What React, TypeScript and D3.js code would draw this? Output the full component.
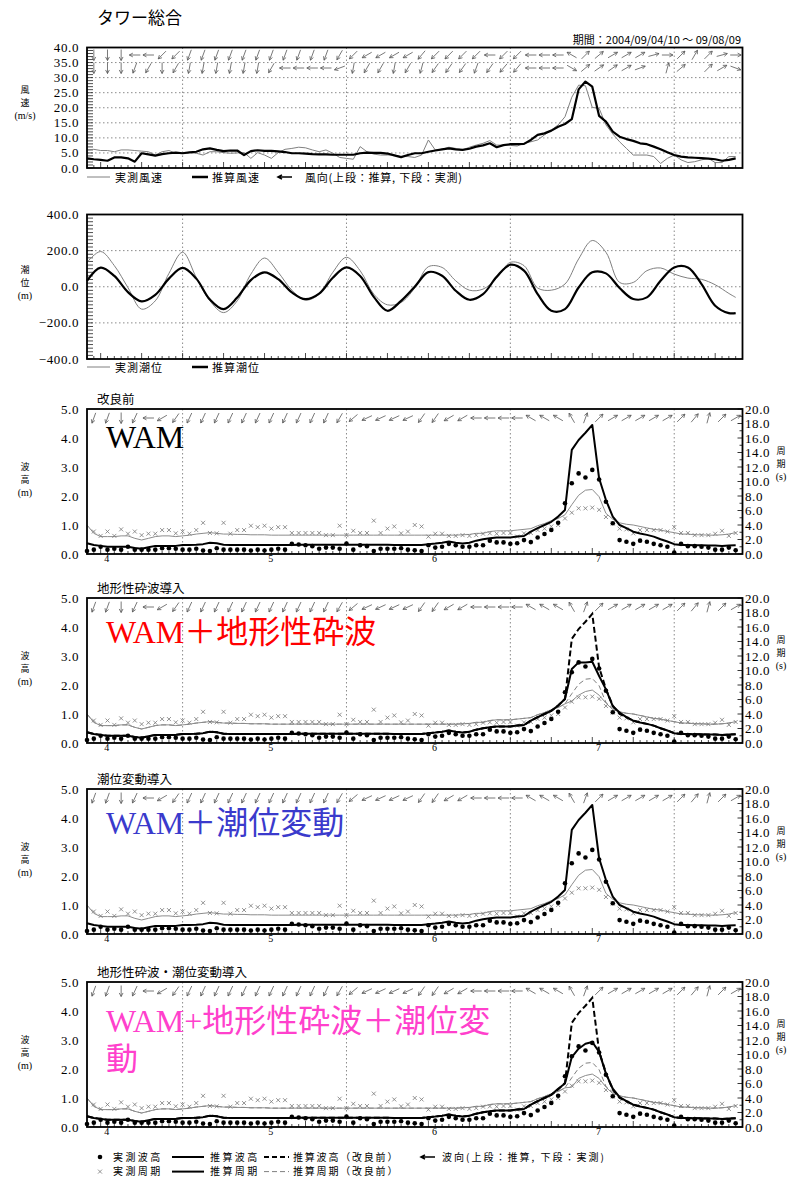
import React from 'react';
import * as d3 from 'd3';

// ---------------- DATA ----------------
// hourly series, hour 0 = 2004/09/04 10:00
const windObs = [
  6.0,6.2,5.8,5.8,5.4,6.0,6.0,5.8,5.6,5.4,
  4.3,5.4,5.8,4.9,4.9,5.1,4.9,4.3,5.4,5.4,
  5.1,4.9,5.0,5.1,3.2,5.1,4.3,3.2,5.1,6.2,
  6.5,6.9,6.7,6.0,5.4,6.0,4.9,3.5,3.2,2.9,
  7.1,5.4,4.6,4.3,4.3,4.3,3.8,3.8,3.5,4.3,
  9.3,6.0,6.2,6.9,6.5,6.0,6.9,7.6,8.2,9.1,
  7.6,7.6,7.5,7.3,8.2,8.7,9.3,11.0,12.6,14.3,
  17.0,23.5,27.5,27.3,20.1,19.8,14.3,11.3,8.7,6.5,
  4.3,4.3,4.3,3.8,1.5,3.2,4.3,2.7,1.8,2.1,
  2.7,3.2,1.8,1.8,3.8,3.8,
];
const windCalc = [
  3.2,2.9,2.7,2.4,3.5,3.5,3.2,2.1,4.9,4.5,
  4.1,4.6,4.9,5.1,4.9,5.2,5.4,6.2,6.5,6.0,
  5.6,5.8,5.8,4.3,5.6,5.9,5.7,5.7,5.5,5.3,
  4.9,4.9,4.8,4.6,4.5,4.5,4.4,4.4,4.4,4.4,
  4.9,5.1,5.0,5.0,4.8,4.2,3.6,4.3,4.9,4.9,
  5.4,5.8,6.2,6.5,6.2,6.0,6.4,7.1,7.5,8.2,
  6.9,7.6,7.9,7.9,8.0,9.3,11.0,11.5,12.4,13.7,
  14.6,16.2,26.1,28.7,27.0,17.3,15.4,12.1,10.4,9.6,
  9.0,8.2,7.9,7.1,6.2,5.2,4.3,3.8,3.5,3.4,
  3.3,3.1,2.9,2.4,2.7,3.2,
];

// tide, every 2 hours (+ last hour)
const tideHours = [0,2,4,6,8,10,12,14,16,18,20,22,24,26,28,30,32,34,36,38,40,42,44,46,48,50,52,54,56,58,60,62,64,66,68,70,72,74,76,78,80,82,84,86,88,90,92,94,95];
const tideObs = [135,195,117,-5,-124,-78,74,191,52,-78,-143,-78,70,159,80,-19,-74,-41,80,163,89,-41,-100,-87,-7,111,107,33,-19,-13,48,135,117,-7,-19,15,154,256,191,24,24,89,104,70,48,41,11,-37,-59];
const tideCalc = [33,106,60,-30,-81,-45,45,104,45,-71,-124,-60,37,80,42,-31,-69,-38,50,107,60,-56,-133,-78,0,81,61,-22,-72,-41,55,122,89,-41,-133,-124,-4,80,74,-7,-68,-59,33,107,107,15,-105,-146,-146];

// wave: observed height (dots) and period (crosses)
const obsH = [
  0.10,0.15,0.25,0.15,0.18,0.15,0.25,0.15,0.15,0.15,
  0.15,0.20,0.20,0.18,0.15,0.15,0.18,0.12,0.10,0.20,
  0.15,0.15,0.15,0.15,0.12,0.15,0.12,0.15,0.18,0.15,
  0.35,0.33,0.30,0.27,0.18,0.22,0.22,0.18,0.36,0.15,
  0.30,0.27,0.10,0.18,0.18,0.18,0.20,0.15,0.13,0.10,
  0.30,0.22,0.25,0.35,0.30,0.25,0.25,0.30,0.30,0.46,
  0.40,0.40,0.35,0.37,0.48,0.41,0.57,0.69,0.83,1.08,
  1.75,2.44,2.78,2.64,2.90,2.57,1.80,1.06,0.48,0.42,
  0.35,0.46,0.42,0.35,0.30,0.25,0.05,0.35,0.27,0.27,
  0.25,0.22,0.15,0.15,0.22,0.13,
];
const obsT = [
  null,3.1,2.5,3.1,2.5,3.4,2.8,3.1,2.6,2.8,
  2.8,3.3,3.3,2.85,3.1,2.8,3.3,4.3,2.9,2.85,
  4.3,2.8,3.3,3.3,3.9,3.7,3.9,3.5,3.7,3.7,
  2.9,2.9,2.9,2.9,2.9,2.6,2.6,3.9,2.6,3.2,
  2.9,2.9,4.6,2.9,3.5,3.8,2.85,3.1,4.0,3.8,
  2.4,2.8,2.8,2.5,2.5,2.6,2.5,2.6,2.8,2.85,
  2.8,2.9,2.9,2.4,2.85,2.9,3.3,3.5,3.8,4.0,
  4.9,5.7,6.3,6.3,6.4,6.1,5.1,4.2,3.5,3.4,
  2.85,3.3,3.3,3.3,3.3,3.1,3.7,2.9,2.9,2.6,
  2.6,2.6,2.8,3.2,2.5,2.9,
];
// WAM (before improvement)
const hsBase = [
  0.37,0.31,0.28,0.25,0.25,0.25,0.25,0.21,0.18,0.23,
  0.28,0.28,0.28,0.28,0.31,0.31,0.32,0.34,0.39,0.37,
  0.32,0.31,0.31,0.31,0.31,0.31,0.31,0.31,0.31,0.31,
  0.31,0.32,0.32,0.32,0.32,0.32,0.32,0.32,0.32,0.32,
  0.32,0.32,0.32,0.32,0.32,0.31,0.31,0.31,0.31,0.31,
  0.34,0.36,0.39,0.43,0.39,0.36,0.39,0.46,0.51,0.54,
  0.57,0.57,0.57,0.60,0.62,0.77,0.89,1.00,1.11,1.29,
  1.52,3.59,3.93,4.18,4.45,2.61,1.86,1.29,1.00,0.89,
  0.77,0.71,0.66,0.60,0.51,0.43,0.34,0.31,0.31,0.30,
  0.30,0.29,0.29,0.28,0.29,0.30,
];
const tsBase = [
  4.0,2.85,2.4,2.4,2.4,2.5,2.5,2.16,1.93,2.16,
  2.4,2.5,2.5,2.4,2.5,2.6,2.75,2.85,2.95,2.85,
  2.75,2.75,2.7,2.7,2.65,2.65,2.65,2.6,2.6,2.6,
  2.6,2.6,2.6,2.6,2.6,2.6,2.6,2.6,2.6,2.6,
  2.6,2.6,2.6,2.6,2.6,2.6,2.6,2.6,2.6,2.6,
  2.6,2.6,2.6,2.6,2.6,2.65,2.7,2.85,2.85,3.1,
  3.2,3.2,3.2,3.3,3.4,3.5,3.9,4.2,4.6,4.9,
  5.4,6.8,8.1,8.8,8.9,7.9,5.6,4.8,4.3,4.1,
  4.0,3.8,3.6,3.4,3.3,3.1,2.95,2.75,2.75,2.65,
  2.65,2.6,2.6,2.65,2.75,2.95,
];
// WAM + topographic breaking
const hsBreak = [
  0.37,0.31,0.28,0.25,0.25,0.25,0.25,0.21,0.18,0.23,
  0.28,0.28,0.28,0.28,0.31,0.31,0.32,0.34,0.39,0.37,
  0.32,0.31,0.31,0.31,0.31,0.31,0.31,0.31,0.31,0.31,
  0.31,0.32,0.32,0.32,0.32,0.32,0.32,0.32,0.32,0.32,
  0.32,0.32,0.32,0.32,0.32,0.31,0.31,0.31,0.31,0.31,
  0.34,0.36,0.39,0.43,0.39,0.36,0.39,0.46,0.51,0.54,
  0.57,0.57,0.57,0.60,0.62,0.77,0.89,1.00,1.11,1.29,
  1.52,2.55,2.78,2.78,2.80,2.31,1.85,1.27,1.05,0.89,
  0.77,0.71,0.66,0.60,0.51,0.43,0.34,0.31,0.31,0.30,
  0.30,0.29,0.29,0.28,0.29,0.30,
];
const tsBreak = [
  4.0,2.85,2.4,2.4,2.4,2.5,2.5,2.16,1.93,2.16,
  2.4,2.5,2.5,2.4,2.5,2.6,2.75,2.85,2.95,2.85,
  2.75,2.75,2.7,2.7,2.65,2.65,2.65,2.6,2.6,2.6,
  2.6,2.6,2.6,2.6,2.6,2.6,2.6,2.6,2.6,2.6,
  2.6,2.6,2.6,2.6,2.6,2.6,2.6,2.6,2.6,2.6,
  2.6,2.6,2.6,2.6,2.6,2.65,2.7,2.85,2.85,3.1,
  3.2,3.2,3.2,3.3,3.4,3.5,3.9,4.2,4.6,4.9,
  5.4,5.8,6.6,7.1,7.3,6.6,5.5,4.6,4.3,4.1,
  4.0,3.8,3.6,3.4,3.3,3.1,2.95,2.75,2.75,2.65,
  2.65,2.6,2.6,2.65,2.75,2.95,
];
// WAM + tide variation
const hsTide = [
  0.37,0.31,0.28,0.25,0.25,0.25,0.25,0.21,0.18,0.23,
  0.28,0.28,0.28,0.28,0.31,0.31,0.32,0.34,0.39,0.37,
  0.32,0.31,0.31,0.31,0.31,0.31,0.31,0.31,0.31,0.31,
  0.31,0.32,0.32,0.32,0.32,0.32,0.32,0.32,0.32,0.32,
  0.32,0.32,0.32,0.32,0.32,0.31,0.31,0.31,0.31,0.31,
  0.34,0.36,0.39,0.43,0.39,0.36,0.39,0.46,0.51,0.54,
  0.57,0.57,0.57,0.60,0.62,0.77,0.89,1.00,1.11,1.29,
  1.52,3.59,3.93,4.18,4.45,2.61,1.86,1.29,1.00,0.89,
  0.77,0.71,0.66,0.60,0.51,0.43,0.34,0.31,0.31,0.30,
  0.30,0.29,0.29,0.28,0.29,0.30,
];
const tsTide = [
  4.0,2.85,2.4,2.4,2.4,2.5,2.5,2.16,1.93,2.16,
  2.4,2.5,2.5,2.4,2.5,2.6,2.75,2.85,2.95,2.85,
  2.75,2.75,2.7,2.7,2.65,2.65,2.65,2.6,2.6,2.6,
  2.6,2.6,2.6,2.6,2.6,2.6,2.6,2.6,2.6,2.6,
  2.6,2.6,2.6,2.6,2.6,2.6,2.6,2.6,2.6,2.6,
  2.6,2.6,2.6,2.6,2.6,2.65,2.7,2.85,2.85,3.1,
  3.2,3.2,3.2,3.3,3.4,3.5,3.9,4.2,4.6,4.9,
  5.4,6.8,8.1,8.8,8.9,7.9,5.6,4.8,4.3,4.1,
  4.0,3.8,3.6,3.4,3.3,3.1,2.95,2.75,2.75,2.65,
  2.65,2.6,2.6,2.65,2.75,2.95,
];
// WAM + breaking + tide
const hsBoth = [
  0.37,0.31,0.28,0.25,0.25,0.25,0.25,0.21,0.18,0.23,
  0.28,0.28,0.28,0.28,0.31,0.31,0.32,0.34,0.39,0.37,
  0.32,0.31,0.31,0.31,0.31,0.31,0.31,0.31,0.31,0.31,
  0.31,0.32,0.32,0.32,0.32,0.32,0.32,0.32,0.32,0.32,
  0.32,0.32,0.32,0.32,0.32,0.31,0.31,0.31,0.31,0.31,
  0.34,0.36,0.39,0.43,0.39,0.36,0.39,0.46,0.51,0.54,
  0.57,0.57,0.57,0.60,0.62,0.77,0.89,1.00,1.11,1.32,
  1.50,2.41,2.70,2.87,2.93,2.59,1.84,1.32,1.03,0.89,
  0.77,0.71,0.66,0.60,0.51,0.43,0.34,0.31,0.31,0.30,
  0.30,0.29,0.29,0.28,0.29,0.30,
];
const tsBoth = [
  4.0,2.85,2.4,2.4,2.4,2.5,2.5,2.16,1.93,2.16,
  2.4,2.5,2.5,2.4,2.5,2.6,2.75,2.85,2.95,2.85,
  2.75,2.75,2.7,2.7,2.65,2.65,2.65,2.6,2.6,2.6,
  2.6,2.6,2.6,2.6,2.6,2.6,2.6,2.6,2.6,2.6,
  2.6,2.6,2.6,2.6,2.6,2.6,2.6,2.6,2.6,2.6,
  2.6,2.6,2.6,2.6,2.6,2.65,2.7,2.85,2.85,3.1,
  3.2,3.2,3.2,3.3,3.4,3.5,3.9,4.2,4.6,4.9,
  5.4,5.5,6.7,7.1,7.3,6.7,5.5,4.6,4.3,4.1,
  4.0,3.8,3.6,3.4,3.3,3.1,2.95,2.75,2.75,2.65,
  2.65,2.6,2.6,2.65,2.75,2.95,
];

// directions (degrees clockwise from north, direction the arrow points), every 2 h at hours 1,3,...,95
const windDirCalc = [180,180,180,270,270,225,225,200,200,200,200,200,200,200,200,200,200,200,210,225,240,240,
  240,240,220,225,225,225,225,270,225,225,270,270,270,300,45,50,60,60,60,75,90,45,30,45,75,90];
const windDirObs = [180,180,180,200,210,180,210,190,190,190,190,190,190,210,270,270,270,270,250,190,210,210,
  190,210,195,215,215,215,200,215,220,220,270,270,270,120,50,55,55,60,70,null,15,50,null,45,60,110];
const waveDir = [200,200,180,205,270,240,215,205,205,205,205,205,205,205,205,205,205,205,210,230,245,245,
  245,245,215,215,240,240,270,270,270,270,300,300,300,330,20,45,60,60,60,60,60,45,40,15,45,60];

const dayLabels = ['4', '5', '6', '7'];
const dayLabelHours = [2.9, 26.9, 50.9, 74.9];
const midnightHours = [14, 38, 62, 86];

// ---------------- LAYOUT ----------------
const X0 = 87, X1 = 742.5;
const x = d3.scaleLinear().domain([0, 96]).range([X0, X1]);
const serif = "'Liberation Serif','Times New Roman',serif";
const jp = "'Noto Sans CJK JP','Noto Sans',sans-serif";
const hourTicks = d3.range(0, 96);
const arrowHours = d3.range(1, 96, 2);
const GRID = '#8a8a8a';

function Arrow({ cx, cy, deg, len = 11, color = '#555', sw = 0.8, head = 4 }: any) {
  const r = (deg * Math.PI) / 180;
  const dx = Math.sin(r), dy = -Math.cos(r);
  const x1 = cx - (dx * len) / 2, y1 = cy - (dy * len) / 2;
  const x2 = cx + (dx * len) / 2, y2 = cy + (dy * len) / 2;
  const ha = (28 * Math.PI) / 180;
  const b = r + Math.PI;
  const h1x = x2 + Math.sin(b - ha) * head, h1y = y2 - Math.cos(b - ha) * head;
  const h2x = x2 + Math.sin(b + ha) * head, h2y = y2 - Math.cos(b + ha) * head;
  return (
    <path d={`M${x1},${y1}L${x2},${y2}M${h1x},${h1y}L${x2},${y2}L${h2x},${h2y}`}
      stroke={color} fill="none" strokeWidth={sw} />
  );
}

function ArrowRow({ dirs, y }: any) {
  return (
    <g>
      {dirs.map((d: number | null, i: number) =>
        d == null ? null : <Arrow key={i} cx={x(arrowHours[i])} cy={y} deg={d} />
      )}
    </g>
  );
}

function VGrid({ top, bottom }: any) {
  return (
    <g>
      {midnightHours.map((h) => (
        <line key={h} x1={x(h)} x2={x(h)} y1={top} y2={bottom} stroke={GRID} strokeDasharray="1.5,2.5" />
      ))}
    </g>
  );
}

function BottomTicks({ y }: any) {
  return (
    <g>
      {hourTicks.map((h) => (
        <line key={h} x1={x(h)} x2={x(h)} y1={y} y2={y - ((h - 2) % 6 === 0 ? 6 : 3)} stroke="#000" strokeWidth={0.7} />
      ))}
    </g>
  );
}

// stacked vertical label
function VLabel({ lines, cx, y0, step = 13.2, size = 9 }: any) {
  return (
    <text x={cx} y={y0} textAnchor="middle" fontSize={size} fontFamily={jp}>
      {lines.map((t: string, i: number) => (
        <tspan key={i} x={cx} dy={i === 0 ? 0 : step}
          fontFamily={i === lines.length - 1 ? serif : jp}
          fontSize={i === lines.length - 1 ? size + 1 : size}>{t}</tspan>
      ))}
    </text>
  );
}

// two-row legend text
function TwoRow({ x0, y0, rows, step = 14.6, fs = 10, ls = 2.4 }: any) {
  return (
    <text x={x0} y={y0} fontSize={fs} fontFamily={jp} letterSpacing={ls}>
      {rows.map((t: string, i: number) => (
        <tspan key={i} x={x0} dy={i === 0 ? 0 : step}>{t}</tspan>
      ))}
    </text>
  );
}

const f1 = d3.format('.1f');

function WindPanel() {
  const top = 47.5, bottom = 168;
  const y = d3.scaleLinear().domain([0, 40]).range([bottom, top]);
  const line = d3.line<number>().x((_, i) => x(i)).y((v) => y(v));
  return (
    <g>
      {[5, 10, 15, 20, 25, 30, 35].map((v) => (
        <line key={v} x1={X0} x2={X1} y1={y(v)} y2={y(v)} stroke={GRID} strokeDasharray="1.5,2.5" />
      ))}
      <VGrid top={top} bottom={bottom} />
      {d3.range(0, 41).map((v) => (
        <line key={v} x1={X0} x2={X0 + 6} y1={y(v)} y2={y(v)} stroke="#000" strokeWidth={0.7} />
      ))}
      <BottomTicks y={bottom} />
      {[0, 5, 10, 15, 20, 25, 30, 35, 40].map((v) => (
        <text key={v} x={79} y={y(v) + 4.5} textAnchor="end" fontSize={13} fontFamily={serif} letterSpacing={0.6}>{f1(v)}</text>
      ))}
      <path d={line(windObs) || ''} fill="none" stroke="#808080" strokeWidth={1} />
      <path d={line(windCalc) || ''} fill="none" stroke="#000" strokeWidth={2.2} strokeLinejoin="round" />
      <ArrowRow dirs={windDirCalc} y={55} />
      <ArrowRow dirs={windDirObs} y={68} />
      <rect x={X0} y={top} width={X1 - X0} height={bottom - top} fill="none" stroke="#000" strokeWidth={1.8} />
      <VLabel lines={['風', '速', '(m/s)']} cx={25} y0={93} />
      {/* legend */}
      <line x1={87} x2={110} y1={177} y2={177} stroke="#808080" strokeWidth={1} />
      <text x={115} y={181.5} fontSize={11} fontFamily={jp} letterSpacing={1}>実測風速</text>
      <line x1={192} x2={208} y1={177} y2={177} stroke="#000" strokeWidth={2.5} />
      <text x={212} y={181.5} fontSize={11} fontFamily={jp} letterSpacing={1}>推算風速</text>
      <Arrow cx={285} cy={177} deg={270} len={14} color="#000" sw={1.6} head={4.5} />
      <text x={305} y={181.5} fontSize={11} fontFamily={jp} letterSpacing={0.8}>風向(上段：推算, 下段：実測)</text>
    </g>
  );
}

function TidePanel() {
  const top = 214.5, bottom = 359;
  const y = d3.scaleLinear().domain([-400, 400]).range([bottom, top]);
  const line = d3.line<number>().x((_, i) => x(tideHours[i])).y((v) => y(v)).curve(d3.curveCatmullRom.alpha(0.5));
  return (
    <g>
      {[-200, 0, 200].map((v) => (
        <line key={v} x1={X0} x2={X1} y1={y(v)} y2={y(v)} stroke={GRID} strokeDasharray="1.5,2.5" />
      ))}
      <VGrid top={top} bottom={bottom} />
      {d3.range(-400, 401, 20).map((v) => (
        <line key={v} x1={X0} x2={X0 + 6} y1={y(v)} y2={y(v)} stroke="#000" strokeWidth={0.7} />
      ))}
      <BottomTicks y={bottom} />
      {[-400, -200, 0, 200, 400].map((v) => (
        <text key={v} x={79} y={y(v) + 4.5} textAnchor="end" fontSize={13} fontFamily={serif} letterSpacing={0.6}>{f1(v)}</text>
      ))}
      <path d={line(tideObs) || ''} fill="none" stroke="#808080" strokeWidth={1} />
      <path d={line(tideCalc) || ''} fill="none" stroke="#000" strokeWidth={2.2} />
      <rect x={X0} y={top} width={X1 - X0} height={bottom - top} fill="none" stroke="#000" strokeWidth={1.8} />
      <VLabel lines={['潮', '位', '(m)']} cx={25} y0={273} />
      <line x1={87} x2={110} y1={367} y2={367} stroke="#808080" strokeWidth={1} />
      <text x={115} y={371.5} fontSize={11} fontFamily={jp} letterSpacing={1}>実測潮位</text>
      <line x1={192} x2={208} y1={367} y2={367} stroke="#000" strokeWidth={2.5} />
      <text x={212} y={371.5} fontSize={11} fontFamily={jp} letterSpacing={1}>推算潮位</text>
    </g>
  );
}

function WavePanel({ top, title, label, color, labelBase, hs, ts, prev }: any) {
  const bottom = top + 145;
  const yH = d3.scaleLinear().domain([0, 5]).range([bottom, top]);
  const yT = d3.scaleLinear().domain([0, 20]).range([bottom, top]);
  const lineH = d3.line<number>().x((_, i) => x(i)).y((v) => yH(v));
  const lineT = d3.line<number>().x((_, i) => x(i)).y((v) => yT(v));
  return (
    <g>
      <text x={97} y={top - 5} fontSize={12.5} fontFamily={jp}>{title}</text>
      <VGrid top={top} bottom={bottom} />
      <BottomTicks y={bottom} />
      {d3.range(0, 21).map((v) => (
        <line key={v} x1={X1} x2={X1 - (v % 2 === 0 ? 5 : 3)} y1={yT(v)} y2={yT(v)} stroke="#000" strokeWidth={0.8} />
      ))}
      {[0, 1, 2, 3, 4, 5].map((v) => (
        <text key={v} x={79} y={yH(v) + 4.5} textAnchor="end" fontSize={13} fontFamily={serif} letterSpacing={0.6}>{f1(v)}</text>
      ))}
      {d3.range(0, 21, 2).map((v) => (
        <text key={v} x={745} y={yT(v) + 4.5} fontSize={13} fontFamily={serif} letterSpacing={0.6}>{f1(v)}</text>
      ))}
      {dayLabels.map((d, i) => (
        <text key={d} x={x(dayLabelHours[i])} y={bottom + 8} textAnchor="middle" fontSize={10} fontFamily={serif}>{d}</text>
      ))}
      <text x={106} y={top + labelBase} fontSize={32} fill={color}
        fontFamily="'Liberation Serif','Noto Sans CJK JP',serif">
        {label.map((t: string, i: number) => (
          <tspan key={i} x={106} dy={i === 0 ? 0 : 38}>{t}</tspan>
        ))}
      </text>
      {prev ? <path d={lineT(prev.ts) || ''} fill="none" stroke="#808080" strokeWidth={1} strokeDasharray="5,3" /> : null}
      <path d={lineT(ts) || ''} fill="none" stroke="#8c8c8c" strokeWidth={1} />
      {obsT.map((v, i) => v == null ? null : (
        <path key={i} d={`M${x(i) - 2},${yT(v) - 2}L${x(i) + 2},${yT(v) + 2}M${x(i) - 2},${yT(v) + 2}L${x(i) + 2},${yT(v) - 2}`}
          stroke="#777" strokeWidth={0.8} />
      ))}
      {prev ? <path d={lineH(prev.hs) || ''} fill="none" stroke="#000" strokeWidth={2} strokeDasharray="6,3" /> : null}
      <path d={lineH(hs) || ''} fill="none" stroke="#000" strokeWidth={2} strokeLinejoin="round" />
      {obsH.map((v, i) => (
        <circle key={i} cx={x(i)} cy={yH(v)} r={2.3} fill="#000" />
      ))}
      <ArrowRow dirs={waveDir} y={top + 9} />
      <rect x={X0} y={top} width={X1 - X0} height={145} fill="none" stroke="#000" strokeWidth={1.8} />
      <VLabel lines={['波', '高', '(m)']} cx={25} y0={top + 61} />
      <VLabel lines={['周', '期', '(s)']} cx={781} y0={top + 45} />
    </g>
  );
}

function BottomLegend() {
  const r1 = 1157, r2 = 1171.6;
  return (
    <g>
      <circle cx={100} cy={r1} r={2.3} fill="#000" />
      <path d={`M98,${r2 - 2}L102,${r2 + 2}M98,${r2 + 2}L102,${r2 - 2}`} stroke="#777" strokeWidth={0.8} />
      <TwoRow x0={113} y0={r1 + 3.5} rows={['実測波高', '実測周期']} />
      <line x1={172} x2={204} y1={r1} y2={r1} stroke="#000" strokeWidth={2} />
      <line x1={172} x2={204} y1={r2} y2={r2} stroke="#000" strokeWidth={2} />
      <TwoRow x0={210} y0={r1 + 3.5} rows={['推算波高', '推算周期']} />
      <line x1={264} x2={289} y1={r1} y2={r1} stroke="#000" strokeWidth={2} strokeDasharray="5,3" />
      <line x1={264} x2={289} y1={r2} y2={r2} stroke="#808080" strokeWidth={1} strokeDasharray="5,3" />
      <TwoRow x0={293} y0={r1 + 3.5} rows={['推算波高（改良前）', '推算周期（改良前）']} ls={1.8} />
      <Arrow cx={428} cy={r1} deg={270} len={14} color="#000" sw={1.6} head={4.5} />
      <text x={442} y={r1 + 3.5} fontSize={10} fontFamily={jp} letterSpacing={2}>波向(上段：推算, 下段：実測)</text>
    </g>
  );
}

export default function App() {
  const prevSet = { hs: hsBase, ts: tsBase };
  return (
    <svg width={787} height={1180} viewBox="0 0 787 1180"
      style={{ position: 'absolute', left: 0, top: 0, background: '#fff' }}>
      <rect x={0} y={0} width={787} height={1180} fill="#fff" />
      <text x={97} y={24} fontSize={17} fontFamily={jp}>タワー総合</text>
      <text x={741} y={44} textAnchor="end" fontSize={11} fontFamily={jp}>期間：2004/09/04/10 ～ 09/08/09</text>
      <WindPanel />
      <TidePanel />
      <WavePanel top={409} title="改良前" label={['WAM']} labelBase={39} color="#000" hs={hsBase} ts={tsBase} />
      <WavePanel top={598} title="地形性砕波導入" label={['WAM＋地形性砕波']} labelBase={45} color="#ff0000" hs={hsBreak} ts={tsBreak} prev={prevSet} />
      <WavePanel top={789} title="潮位変動導入" label={['WAM＋潮位変動']} labelBase={45} color="#3a3acc" hs={hsTide} ts={tsTide} />
      <WavePanel top={982} title="地形性砕波・潮位変動導入" label={['WAM+地形性砕波＋潮位変', '動']} labelBase={50} color="#ff40cc" hs={hsBoth} ts={tsBoth} prev={prevSet} />
      <BottomLegend />
    </svg>
  );
}
